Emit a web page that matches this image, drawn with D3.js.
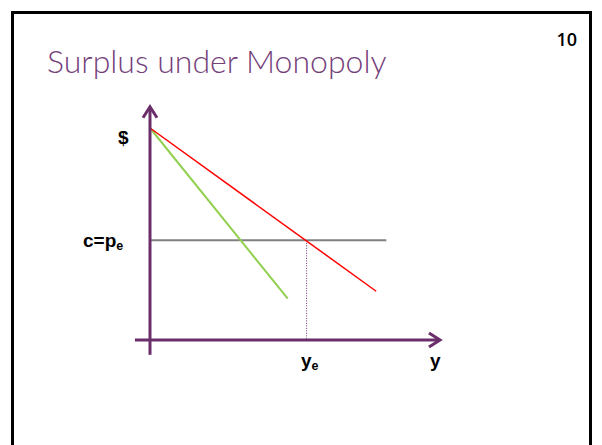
<!DOCTYPE html>
<html><head><meta charset="utf-8">
<script src="https://cdn.jsdelivr.net/npm/d3@7"></script>
<style>html,body{margin:0;padding:0;background:#fff;overflow:hidden}</style>
</head><body>
<svg id="c" width="602" height="445"></svg>
<script>
// Data (quantity y on x-axis, price $ on y-axis)
const demandQ = [0, 7.8];      // red line (demand)
const demandP = [10, 2.3];
const mrQ = [0, 4.75];         // green line (marginal revenue)
const mrP = [10, 1.95];
const costLevel = 4.7;         // c = p_e
const costQ = [0, 8.15];
const qEquil = 5.4;            // y_e
const axisX = [-0.52, 10];
const axisY = [-0.7, 11];
const title = "Surplus under Monopoly";
const slideNumber = "10";

const svg = d3.select("#c");
const x = d3.scaleLinear().domain([0, 10]).range([150, 440]);
const y = d3.scaleLinear().domain([0, 10]).range([340, 128]);
const purple = "#6a2e6b";

// slide border
svg.append("rect").attr("x", 12.5).attr("y", 12.5).attr("width", 578).attr("height", 460)
  .attr("fill", "none").attr("stroke", "#000").attr("stroke-width", 3);

svg.append("text").attr("x", 47).attr("y", 73).text(title)
  .attr("font-family", "Lato, 'Open Sans', sans-serif").attr("font-size", 32)
  .attr("font-weight", 300).attr("fill", "#75407a");
svg.append("text").attr("x", 577).attr("y", 46).attr("text-anchor", "end").text(slideNumber)
  .attr("font-family", "'Open Sans', 'Liberation Sans', sans-serif").attr("font-size", 18)
  .attr("font-weight", 600).attr("fill", "#000");

const line = d3.line().x(d => x(d[0])).y(d => y(d[1]));

// gray cost line
svg.append("path").datum([[costQ[0], costLevel], [costQ[1], costLevel]]).attr("d", line)
  .attr("stroke", "#808080").attr("stroke-width", 2).attr("fill", "none");
// dotted vertical
svg.append("path").datum([[qEquil, costLevel], [qEquil, 0]]).attr("d", line)
  .attr("stroke", purple).attr("stroke-width", 1).attr("stroke-dasharray", "1,1.5").attr("fill", "none");
// green MR
svg.append("path").datum(mrQ.map((q, i) => [q, mrP[i]])).attr("d", line)
  .attr("stroke", "#92d050").attr("stroke-width", 2).attr("fill", "none");
// red demand
svg.append("path").datum(demandQ.map((q, i) => [q, demandP[i]])).attr("d", line)
  .attr("stroke", "#ff0000").attr("stroke-width", 1.5).attr("fill", "none");

// axes
svg.append("line").attr("x1", x(axisX[0])).attr("x2", x(axisX[1]) - 2).attr("y1", y(0)).attr("y2", y(0))
  .attr("stroke", purple).attr("stroke-width", 3);
svg.append("line").attr("x1", x(0)).attr("x2", x(0)).attr("y1", y(axisY[0])).attr("y2", y(axisY[1]) + 2)
  .attr("stroke", purple).attr("stroke-width", 3);
// arrowheads
const ax = x(axisX[1]), ay = y(0);
svg.append("path").attr("d", `M${ax - 11},${ay - 7} L${ax},${ay} L${ax - 11},${ay + 7}`)
  .attr("stroke", purple).attr("stroke-width", 3).attr("fill", "none");
const bx = x(0), by = y(axisY[1]);
svg.append("path").attr("d", `M${bx - 7},${by + 11} L${bx},${by} L${bx + 7},${by + 11}`)
  .attr("stroke", purple).attr("stroke-width", 3).attr("fill", "none");

const lab = (xx, yy) => svg.append("text").attr("x", xx).attr("y", yy)
  .attr("font-family", "'Liberation Sans', Arial, sans-serif").attr("font-size", 19)
  .attr("font-weight", "bold").attr("fill", "#000");

lab(118, 144).text("$");
const cp = lab(83, 247); cp.append("tspan").text("c=p");
cp.append("tspan").attr("font-size", 12.5).attr("dy", 3).text("e");
const ye = lab(301, 367); ye.append("tspan").text("y");
ye.append("tspan").attr("font-size", 12.5).attr("dy", 3).text("e");
lab(430, 367).text("y");
</script>
</body></html>
